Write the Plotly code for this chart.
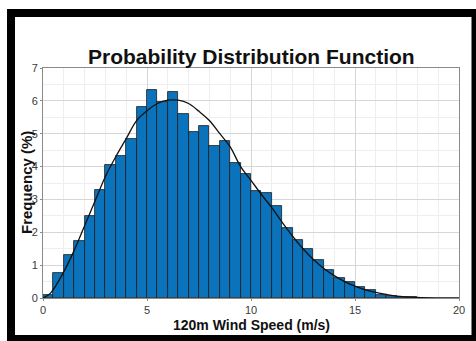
import plotly.graph_objects as go

# ---- data ----
bin_left = [0.0, 0.5, 1.0, 1.5, 2.0, 2.5, 3.0, 3.5, 4.0, 4.5,
            5.0, 5.5, 6.0, 6.5, 7.0, 7.5, 8.0, 8.5, 9.0, 9.5,
            10.0, 10.5, 11.0, 11.5, 12.0, 12.5, 13.0, 13.5, 14.0, 14.5,
            15.0, 15.5, 16.0, 16.5, 17.0, 17.5]
freq_pct = [0.10, 0.75, 1.30, 1.72, 2.50, 3.30, 4.05, 4.33, 4.85, 5.81,
            6.32, 5.97, 6.27, 5.61, 5.04, 5.24, 4.64, 4.77, 4.12, 3.76,
            3.25, 3.21, 2.81, 2.14, 1.76, 1.49, 1.15, 0.85, 0.62, 0.48,
            0.34, 0.23, 0.10, 0.06, 0.03, 0.02]
bin_width = 0.5

pdf_x = [0, 0.35, 1.0, 1.5, 2.0, 2.5, 3.0, 3.5, 4.0, 4.5, 5.0, 5.5, 6.0, 6.5,
         7.0, 7.5, 8.0, 8.5, 9.0, 9.5, 10.0, 10.5, 11.0, 11.5, 12.0, 12.5,
         13.0, 13.5, 14.0, 14.5, 15.0, 15.5, 16.0, 16.5, 17.0, 18.0, 19.0, 20.0]
pdf_y = [0, 0.14, 0.80, 1.45, 2.20, 2.95, 3.70, 4.30, 4.85, 5.40, 5.70, 5.92, 6.02, 6.02,
         5.92, 5.68, 5.40, 5.00, 4.60, 4.00, 3.58, 3.15, 2.75, 2.30, 1.88, 1.50,
         1.17, 0.90, 0.68, 0.50, 0.36, 0.25, 0.17, 0.11, 0.06, 0.02, 0.005, 0.0]

x_ticks = [0, 5, 10, 15, 20]
y_ticks = [0, 1, 2, 3, 4, 5, 6, 7]

title_text = "Probability Distribution Function"
x_title = "120m Wind Speed (m/s)"
y_title = "Frequency (%)"

# ---- layout geometry ----
W, H = 476, 341
ML, MR, MT, MB = 43, 17, 68, 43
PW, PH = W - ML - MR, H - MT - MB


def px(xp):
    return (xp - ML) / PW


def py(yp):
    return (H - MB - yp) / PH


fig = go.Figure()
fig.add_trace(go.Bar(
    x=[b + bin_width / 2 for b in bin_left], y=freq_pct, width=bin_width,
    marker=dict(color="#0a73bb", line=dict(color="#1a1a1a", width=0.8)),
    showlegend=False,
))
fig.add_trace(go.Scatter(
    x=pdf_x, y=pdf_y, mode="lines", line=dict(color="#111111", width=1.3, shape="spline"),
    showlegend=False,
))

axis_common = dict(
    showline=True, linecolor="#8a8a8a", linewidth=1, mirror=True,
    ticks="outside", ticklen=2, tickcolor="#8a8a8a",
    tickfont=dict(family="Liberation Sans, Arial", size=11, color="#3a3a3a"),
    gridcolor="#d6d6d6", gridwidth=1, zeroline=False,
)
fig.update_xaxes(range=[0, 20], tickvals=x_ticks, ticktext=[str(v) for v in x_ticks],
                 minor=dict(dtick=1, showgrid=True, gridcolor="#eeeeee"), **axis_common)
fig.update_yaxes(range=[0, 7], tickvals=y_ticks, ticktext=[str(v) for v in y_ticks],
                 minor=dict(dtick=0.5, showgrid=True, gridcolor="#eeeeee"), **axis_common)

frame = [(7, 9, 476, 17), (7, 9, 15, 341), (471.5, 9, 476, 341), (7, 335, 476, 341)]
shapes = []
for x0, y0, x1, y1 in frame:
    shapes.append(dict(type="rect", xref="paper", yref="paper",
                       x0=px(x0), x1=px(x1), y0=py(y1), y1=py(y0),
                       fillcolor="black", line=dict(width=0), layer="above"))

annotations = [
    dict(text="<b>%s</b>" % title_text, xref="paper", yref="paper", x=0.5, y=py(56),
         xanchor="center", yanchor="middle", showarrow=False,
         font=dict(family="Liberation Sans, Arial", size=21, color="#111111")),
    dict(text="<b>%s</b>" % x_title, xref="paper", yref="paper", x=0.5, y=py(325),
         xanchor="center", yanchor="middle", showarrow=False,
         font=dict(family="Liberation Sans, Arial", size=14, color="#111111")),
    dict(text="<b>%s</b>" % y_title, xref="paper", yref="paper", x=px(26), y=py(183),
         xanchor="center", yanchor="middle", showarrow=False, textangle=-90,
         font=dict(family="Liberation Sans, Arial", size=15, color="#111111")),
]

fig.update_layout(
    width=W, height=H, autosize=False,
    margin=dict(l=ML, r=MR, t=MT, b=MB, pad=0),
    paper_bgcolor="white", plot_bgcolor="white",
    bargap=0, shapes=shapes, annotations=annotations,
)

fig.write_html("out.html")
